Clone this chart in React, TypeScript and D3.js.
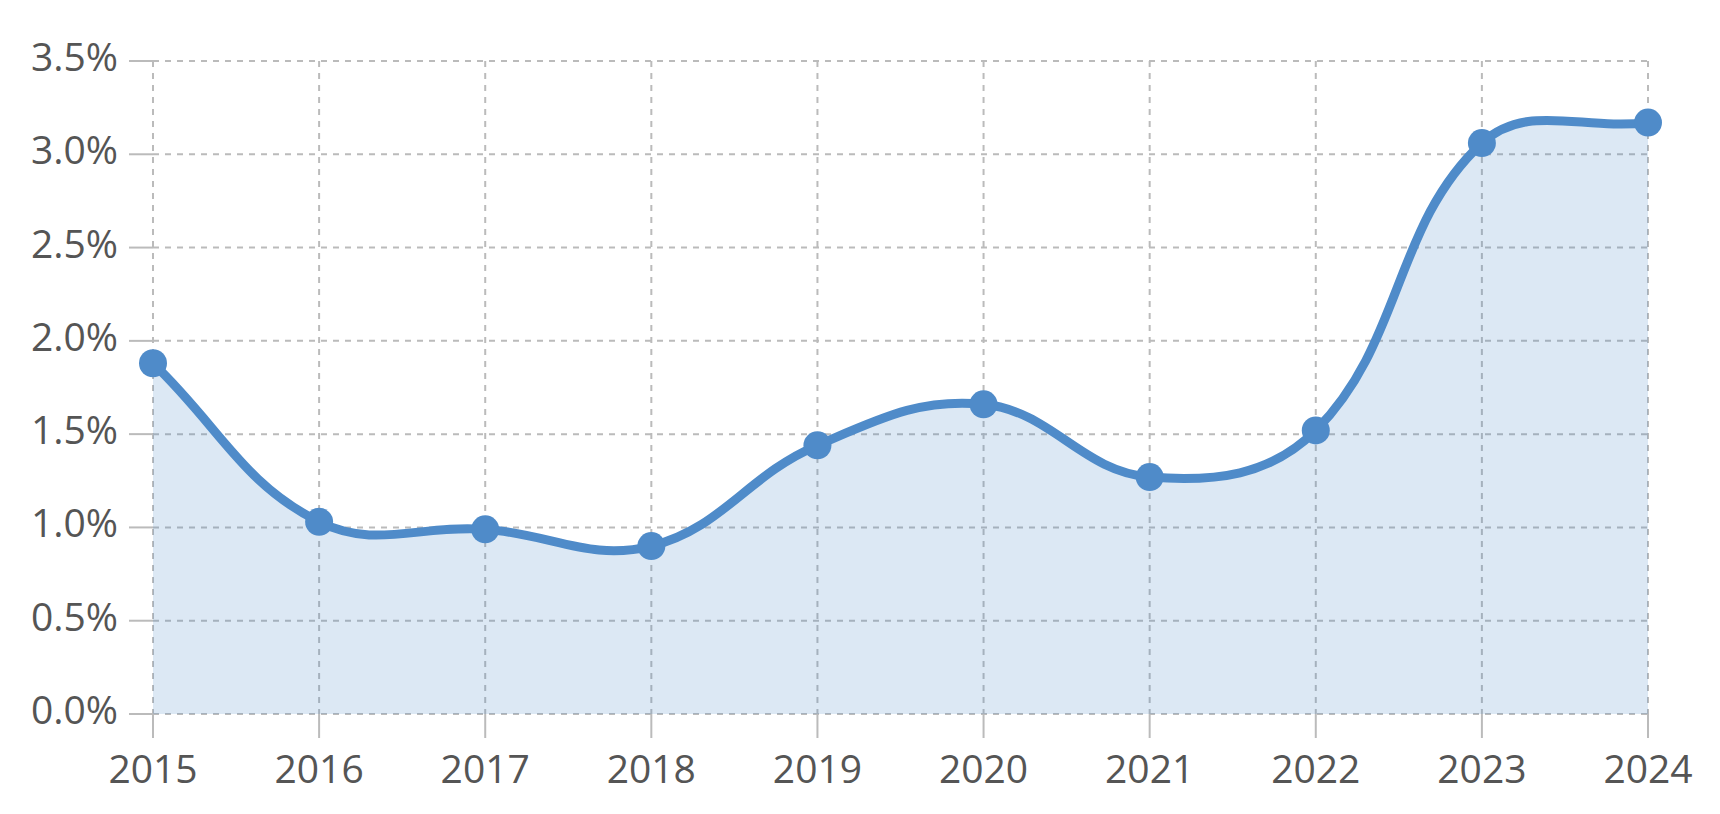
import React, { useEffect, useRef } from 'react';
import * as d3 from 'd3';

const years: number[] = [2015, 2016, 2017, 2018, 2019, 2020, 2021, 2022, 2023, 2024];
const rates: number[] = [1.88, 1.03, 0.99, 0.9, 1.44, 1.66, 1.27, 1.52, 3.06, 3.17];
const yTicks: number[] = [0, 0.5, 1, 1.5, 2, 2.5, 3, 3.5];

interface Point {
  x: number;
  y: number;
}

// spline with distance-weighted control points (tension 0.4)
function splinePath(pts: Point[], tension: number, path: d3.Path) {
  const ctrl = pts.map((cur, i) => {
    const prev = pts[Math.max(0, i - 1)];
    const next = pts[Math.min(pts.length - 1, i + 1)];
    const d01 = Math.hypot(cur.x - prev.x, cur.y - prev.y);
    const d12 = Math.hypot(next.x - cur.x, next.y - cur.y);
    let s01 = d01 / (d01 + d12);
    let s12 = d12 / (d01 + d12);
    if (isNaN(s01)) s01 = 0;
    if (isNaN(s12)) s12 = 0;
    const fa = tension * s01;
    const fb = tension * s12;
    return {
      px: cur.x - fa * (next.x - prev.x),
      py: cur.y - fa * (next.y - prev.y),
      nx: cur.x + fb * (next.x - prev.x),
      ny: cur.y + fb * (next.y - prev.y),
    };
  });
  path.moveTo(pts[0].x, pts[0].y);
  for (let i = 1; i < pts.length; i++) {
    path.bezierCurveTo(ctrl[i - 1].nx, ctrl[i - 1].ny, ctrl[i].px, ctrl[i].py, pts[i].x, pts[i].y);
  }
}

const App: React.FC = () => {
  const svgRef = useRef<SVGSVGElement>(null);

  useEffect(() => {
    if (!svgRef.current) return;

    const svg = d3.select(svgRef.current);
    svg.selectAll("*").remove();

    const left = 153;
    const right = 1648;
    const top = 61;
    const bottom = 714;
    const font = "'Open Sans', sans-serif";

    const xScale = d3.scalePoint<number>()
      .domain(years)
      .range([left, right]);

    const yScale = d3.scaleLinear()
      .domain([0, 3.5])
      .range([bottom, top]);

    const pts: Point[] = years.map((year, i) => ({ x: xScale(year)!, y: yScale(rates[i]) }));

    // grid
    const grid = svg.append("g");
    yTicks.forEach(t => {
      grid.append("line")
        .attr("x1", left)
        .attr("x2", right)
        .attr("y1", yScale(t))
        .attr("y2", yScale(t))
        .attr("stroke", "#bbbbbb")
        .attr("stroke-width", 2)
        .attr("stroke-dasharray", "6,6");
      grid.append("line")
        .attr("x1", left - 24)
        .attr("x2", left)
        .attr("y1", yScale(t))
        .attr("y2", yScale(t))
        .attr("stroke", "#bbbbbb")
        .attr("stroke-width", 2);
    });
    years.forEach(yr => {
      grid.append("line")
        .attr("x1", xScale(yr)!)
        .attr("x2", xScale(yr)!)
        .attr("y1", top)
        .attr("y2", bottom)
        .attr("stroke", "#bbbbbb")
        .attr("stroke-width", 2)
        .attr("stroke-dasharray", "6,6");
      grid.append("line")
        .attr("x1", xScale(yr)!)
        .attr("x2", xScale(yr)!)
        .attr("y1", bottom)
        .attr("y2", bottom + 24)
        .attr("stroke", "#bbbbbb")
        .attr("stroke-width", 2);
    });

    const linePath = d3.path();
    splinePath(pts, 0.4, linePath);

    const areaPath = d3.path();
    splinePath(pts, 0.4, areaPath);
    areaPath.lineTo(pts[pts.length - 1].x, yScale(0));
    areaPath.lineTo(pts[0].x, yScale(0));
    areaPath.closePath();

    svg.append("path")
      .attr("d", areaPath.toString())
      .attr("fill", "rgba(79,139,201,0.2)");

    svg.append("path")
      .attr("d", linePath.toString())
      .attr("fill", "none")
      .attr("stroke", "#4f8bc9")
      .attr("stroke-width", 9);

    svg.selectAll("circle.pt")
      .data(pts)
      .enter()
      .append("circle")
      .attr("cx", d => d.x)
      .attr("cy", d => d.y)
      .attr("r", 14)
      .attr("fill", "#4f8bc9");

    // labels
    yTicks.forEach(t => {
      svg.append("text")
        .attr("x", 118)
        .attr("y", yScale(t) + 10)
        .attr("text-anchor", "end")
        .attr("fill", "#555555")
        .attr("font-family", font)
        .attr("font-size", 39)
        .text(`${t.toFixed(1)}%`);
    });

    years.forEach(yr => {
      svg.append("text")
        .attr("x", xScale(yr)!)
        .attr("y", 783)
        .attr("text-anchor", "middle")
        .attr("fill", "#555555")
        .attr("font-family", font)
        .attr("font-size", 39)
        .text(String(yr));
    });
  }, []);

  return (
    <svg
      ref={svgRef}
      width="1720"
      height="814"
      style={{ position: 'absolute', left: 0, top: 0, background: '#ffffff' }}
    ></svg>
  );
};

export default App;
